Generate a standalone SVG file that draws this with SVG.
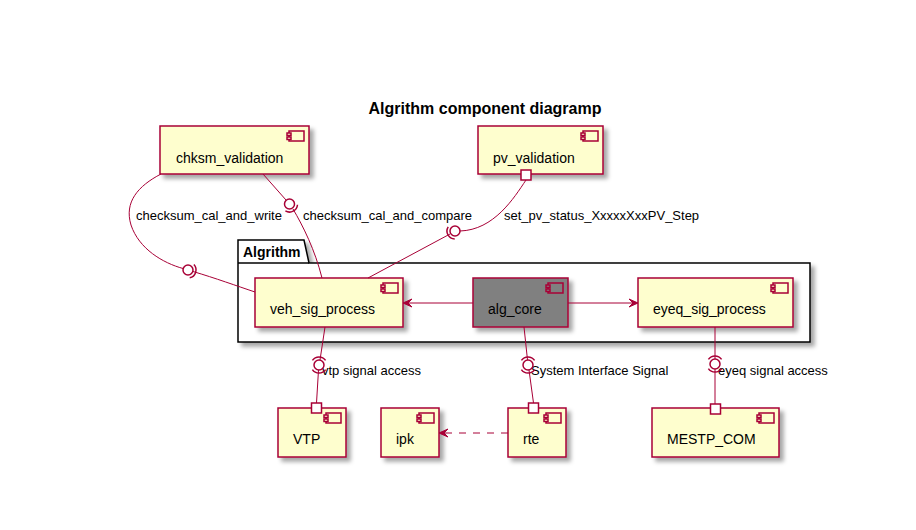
<svg xmlns="http://www.w3.org/2000/svg" xmlns:xlink="http://www.w3.org/1999/xlink" width="916" height="530" viewBox="0 0 916 530">
<style>
.box{fill:#FEFECE;stroke:#A80036;stroke-width:1.5}
.core{fill:#808080;stroke:#A80036;stroke-width:1.5}
.lbl{font-family:"Liberation Sans",Arial,sans-serif;font-size:14px;fill:#000}
.elbl{font-family:"Liberation Sans",Arial,sans-serif;font-size:13px;fill:#000}
.ln{fill:none;stroke:#A80036;stroke-width:1}
.dash{stroke-dasharray:7,7}
.circ{fill:#FFFFFF;stroke:#A80036;stroke-width:1.5}
.arc{fill:none;stroke:#A80036;stroke-width:1.5}
.port{fill:#FFFFFF;stroke:#A80036;stroke-width:1.5}
.head{fill:#A80036;stroke:#A80036;stroke-width:1}
.pkg{fill:#FFFFFF;stroke:#000;stroke-width:1.5}
</style>
<defs>
<filter id="sh" x="-10%" y="-10%" width="130%" height="140%">
<feDropShadow dx="4" dy="4" stdDeviation="2" flood-color="#000" flood-opacity="0.35"/>
</filter>
<g id="icon">
<rect x="-20" y="5" width="15" height="10"/>
<rect x="-22" y="7" width="4" height="2.5"/>
<rect x="-22" y="11" width="4" height="2.5"/>
</g>
</defs>
<rect width="916" height="530" fill="#FFFFFF"/>
<text x="485" y="114" text-anchor="middle" font-family="Liberation Sans, Arial, sans-serif" font-size="16" font-weight="bold">Algrithm component diagramp</text>

<g id="Algrithm">
<path class="pkg" filter="url(#sh)" d="M238,263 L238,240 L304,240 L309,263 L810,263 L810,342 L238,342 Z"/>
<line x1="238" y1="263" x2="309" y2="263" stroke="#000" stroke-width="1.5"/>
<text x="243" y="257" font-family="Liberation Sans, Arial, sans-serif" font-size="14" font-weight="bold">Algrithm</text>
</g>

<g id="chksm_validation">
<rect class="box" filter="url(#sh)" x="160" y="126" width="149" height="48"/>
<use href="#icon" class="box" transform="translate(309,126)"/>
<text class="lbl" x="176" y="163">chksm_validation</text>
</g>
<g id="pv_validation">
<rect class="box" filter="url(#sh)" x="478" y="126" width="125" height="48"/>
<use href="#icon" class="box" transform="translate(603,126)"/>
<text class="lbl" x="493" y="163">pv_validation</text>
</g>
<g id="veh_sig_process">
<rect class="box" filter="url(#sh)" x="255" y="278" width="148" height="49"/>
<use href="#icon" class="box" transform="translate(403,278)"/>
<text class="lbl" x="270" y="314">veh_sig_process</text>
</g>
<g id="alg_core">
<rect class="core" filter="url(#sh)" x="473" y="278" width="95" height="49"/>
<use href="#icon" class="core" transform="translate(568,278)"/>
<text class="lbl" x="488" y="314">alg_core</text>
</g>
<g id="eyeq_sig_process">
<rect class="box" filter="url(#sh)" x="638" y="278" width="155" height="49"/>
<use href="#icon" class="box" transform="translate(793,278)"/>
<text class="lbl" x="653" y="314">eyeq_sig_process</text>
</g>
<g id="VTP">
<rect class="box" filter="url(#sh)" x="278" y="408" width="68" height="49"/>
<use href="#icon" class="box" transform="translate(346,408)"/>
<text class="lbl" x="293" y="444">VTP</text>
</g>
<g id="ipk">
<rect class="box" filter="url(#sh)" x="381" y="408" width="58" height="49"/>
<use href="#icon" class="box" transform="translate(439,408)"/>
<text class="lbl" x="396" y="444">ipk</text>
</g>
<g id="rte">
<rect class="box" filter="url(#sh)" x="508" y="408" width="58" height="49"/>
<use href="#icon" class="box" transform="translate(566,408)"/>
<text class="lbl" x="523" y="444">rte</text>
</g>
<g id="MESTP_COM">
<rect class="box" filter="url(#sh)" x="652" y="408" width="127" height="49"/>
<use href="#icon" class="box" transform="translate(779,408)"/>
<text class="lbl" x="667" y="444">MESTP_COM</text>
</g>

<g id="labels">
<text class="elbl" x="136" y="220">checksum_cal_and_write</text>
<text class="elbl" x="303" y="220">checksum_cal_and_compare</text>
<text class="elbl" x="504" y="220">set_pv_status_XxxxxXxxPV_Step</text>
<text class="elbl" x="322" y="375">vtp signal access</text>
<text class="elbl" x="531" y="375">System Interface Signal</text>
<text class="elbl" x="718" y="375">eyeq signal access</text>
</g>

<g id="connectors">
<!-- chksm -> veh : checksum_cal_and_write -->
<path class="ln" d="M161,174 C138,186 124,202 131,225 C139,249 163,263 183,268.5"/>
<path class="ln" d="M193,271.5 C215,278 237,286 255,292"/>
<circle class="circ" cx="188" cy="270" r="5"/>
<path class="arc" d="M193.9,264.6 A8,8 0 0 1 189.7,277.8"/>
<!-- chksm -> veh : checksum_cal_and_compare -->
<path class="ln" d="M263,174 L286,200"/>
<path class="ln" d="M293,209 C303,226 315,250 322,278"/>
<circle class="circ" cx="289.5" cy="204" r="5"/>
<path class="arc" d="M297.5,204.7 A8,8 0 0 1 285.4,210.9"/>
<!-- pv -> veh : set_pv_status -->
<path class="ln" d="M526,180 C514,198 494,230 460,231"/>
<path class="ln" d="M450,234 L368,278"/>
<circle class="circ" cx="455" cy="231" r="5"/>
<path class="arc" d="M454.7,239 A8,8 0 0 1 448.2,226.8"/>
<rect class="port" x="521" y="170" width="10" height="10"/>
<!-- alg_core -> veh -->
<line class="ln" x1="473" y1="303" x2="405" y2="303"/>
<polygon class="head" points="403,303 412,299 408,303 412,307"/>
<!-- alg_core -> eyeq -->
<line class="ln" x1="568" y1="303" x2="636" y2="303"/>
<polygon class="head" points="638,303 629,299 633,303 629,307"/>
<!-- veh -> VTP -->
<path class="ln" d="M325,327 L320,360"/>
<path class="ln" d="M318.5,370 L316.5,403"/>
<circle class="circ" cx="319" cy="365" r="5"/>
<path class="arc" d="M312.4,360.4 A8,8 0 0 1 325.6,360.4"/>
<path class="arc" d="M325.6,369.6 A8,8 0 0 1 312.4,369.6"/>
<rect class="port" x="311.5" y="403" width="10" height="10"/>
<!-- alg_core -> rte -->
<path class="ln" d="M524,327 L527.5,360"/>
<path class="ln" d="M529,370 L533.5,403"/>
<circle class="circ" cx="528" cy="365" r="5"/>
<path class="arc" d="M521.4,360.4 A8,8 0 0 1 534.6,360.4"/>
<path class="arc" d="M534.6,369.6 A8,8 0 0 1 521.4,369.6"/>
<rect class="port" x="528.5" y="403" width="10" height="10"/>
<!-- eyeq -> MESTP_COM -->
<path class="ln" d="M715,327 L715,359"/>
<path class="ln" d="M715,369 L715,404"/>
<circle class="circ" cx="715" cy="364" r="5"/>
<path class="arc" d="M708.4,359.4 A8,8 0 0 1 721.6,359.4"/>
<path class="arc" d="M721.6,368.6 A8,8 0 0 1 708.4,368.6"/>
<rect class="port" x="710.5" y="404" width="10" height="10"/>
<!-- rte -> ipk dashed -->
<line class="ln dash" x1="508" y1="433" x2="441" y2="433"/>
<polygon class="head" points="439,433 448,429 444,433 448,437"/>
</g>
</svg>
